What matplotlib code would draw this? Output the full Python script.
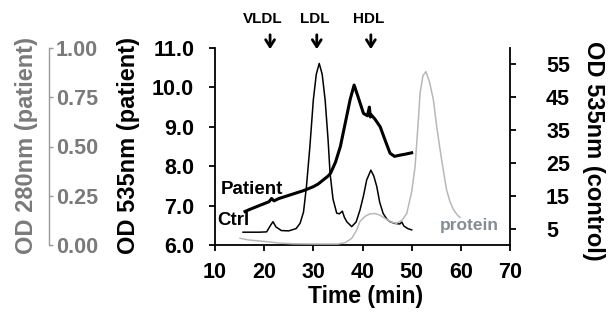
import matplotlib
matplotlib.use("Agg")
import matplotlib.pyplot as plt

plt.rcParams['font.family'] = ['Liberation Sans', 'DejaVu Sans']
plt.rcParams['font.weight'] = 'bold'

# ---- data ----
patient_t = [16.1, 17.0, 18.0, 19.0, 20.0, 21.0, 21.5, 22.0, 23.0, 24.0, 26.0, 28.0, 30.0, 31.0,
             32.0, 33.0, 33.5, 34.5, 35.5, 36.5, 37.5, 38.3, 39.1, 40.2, 41.0, 41.4, 41.6,
             41.8, 42.5, 43.6, 44.6, 45.6, 46.5, 47.6, 48.5, 50.0]
patient_v = [6.85, 6.9, 6.95, 7.0, 7.05, 7.1, 7.18, 7.12, 7.18, 7.22, 7.3, 7.38, 7.48, 7.55,
             7.65, 7.75, 7.82, 8.1, 8.5, 9.1, 9.7, 10.06, 9.76, 9.34, 9.28, 9.5, 9.25,
             9.3, 9.2, 9.0, 8.66, 8.33, 8.25, 8.28, 8.3, 8.34]

ctrl_t = [15.7, 17.0, 19.0, 20.5, 21.3, 21.8, 22.4, 23.5, 25.0, 26.5, 27.3, 28.0, 28.6, 29.3,
          30.0, 30.6, 31.2, 31.8, 32.4, 33.0, 33.4, 34.0, 34.75, 35.3, 35.9, 36.3, 36.8,
          37.8, 38.7, 39.5, 40.2, 40.85, 41.7, 42.3, 42.9, 43.5, 44.2, 45.0, 45.6, 46.5,
          47.6, 48.0, 48.4, 49.2, 50.0]
ctrl_v = [3.9, 3.9, 3.9, 4.0, 6.0, 7.1, 5.5, 4.4, 4.3, 5.0, 6.6, 10.0, 17.8, 30.0,
          44.2, 52.0, 55.3, 52.0, 44.2, 32.0, 21.9, 14.0, 9.7, 9.5, 10.3, 8.5, 7.1,
          5.6, 7.0, 10.7, 15.0, 19.8, 22.8, 21.0, 17.8, 13.0, 9.6, 7.8, 7.1, 6.6,
          6.4, 7.0, 5.8, 5.0, 4.6]

protein_t = [15.1, 17.0, 20.5, 23.0, 26.0, 30.0, 35.0, 36.5, 37.8, 38.7, 39.5, 40.5, 41.5,
             42.5, 43.5, 44.9, 46.0, 46.9, 48.0, 49.0, 50.0, 50.7, 51.4, 51.7, 52.3, 52.9,
             53.6, 54.4, 55.1, 55.8, 56.5, 57.1, 57.8, 58.5, 59.2, 59.8]
protein_v = [0.034, 0.025, 0.017, 0.01, 0.006, 0.005, 0.005, 0.012, 0.034, 0.07, 0.12, 0.145,
             0.158, 0.16, 0.152, 0.13, 0.115, 0.11, 0.125, 0.16, 0.27, 0.40, 0.65, 0.77, 0.86,
             0.88, 0.83, 0.74, 0.60, 0.48, 0.37, 0.28, 0.22, 0.18, 0.155, 0.14]

x_ticks = [10, 20, 30, 40, 50, 60, 70]
patient_ticks = [6.0, 7.0, 8.0, 9.0, 10.0, 11.0]
ctrl_ticks = [5, 15, 25, 35, 45, 55]
od280_ticks = [0.0, 0.25, 0.5, 0.75, 1.0]

marker_names = ['VLDL', 'LDL', 'HDL']
marker_text_t = [19.8, 30.3, 41.3]
marker_arrow_t = [21.2, 30.7, 41.7]

# ---- figure ----
W, H = 613, 318
fig = plt.figure(figsize=(W / 100, H / 100), dpi=100)
L, R, B, T = 215, 510, 245, 48
ax = fig.add_axes([L / W, 1 - B / H, (R - L) / W, (B - T) / H])

GRAY_TXT = '#7a7a7a'
GRAY_LINE = '#b8b8b8'
FS = 15.5
lw_sp = 1.3

# patient axis (left)
ax.plot(patient_t, patient_v, color='black', lw=2.2, zorder=3)
ax.set_xlim(10, 70)
ax.set_ylim(6, 11)
ax.set_xticks(x_ticks)
ax.set_yticks(patient_ticks)
ax.set_yticklabels([f'{v:.1f}' for v in patient_ticks])
for s in ['top', 'right']:
    ax.spines[s].set_visible(False)
for s in ['left', 'bottom']:
    ax.spines[s].set_linewidth(lw_sp)
ax.tick_params(axis='y', direction='out', length=4, width=lw_sp, labelsize=FS, pad=11)
ax.tick_params(axis='x', direction='out', length=4, width=lw_sp, labelsize=FS, pad=8)
for lab in ax.get_xticklabels() + ax.get_yticklabels():
    lab.set_fontweight('bold')

# control axis (right)
axc = ax.twinx()
axc.plot(ctrl_t, ctrl_v, color='black', lw=1.1, zorder=2)
axc.set_ylim(0, 60)
axc.set_yticks(ctrl_ticks)
for s in ['top', 'left', 'bottom']:
    axc.spines[s].set_visible(False)
axc.spines['right'].set_linewidth(lw_sp)
axc.tick_params(axis='y', direction='out', length=4, width=lw_sp, labelsize=FS, pad=22)
for lab in axc.get_yticklabels():
    lab.set_fontweight('bold')

# OD280 protein axis (far left, gray)
axp = ax.twinx()
axp.plot(protein_t, protein_v, color=GRAY_LINE, lw=1.1, zorder=1)
axp.set_ylim(0, 1.0)
axp.set_yticks(od280_ticks)
axp.set_yticklabels([f'{v:.2f}' for v in od280_ticks])
axp.spines['right'].set_position(('axes', (49 - L) / (R - L)))
axp.spines['right'].set_color('#999999')
axp.spines['right'].set_linewidth(1.0)
for s in ['top', 'left', 'bottom']:
    axp.spines[s].set_visible(False)
axp.tick_params(axis='y', direction='out', length=3, width=1.0, colors='#999999',
                labelcolor=GRAY_TXT, labelsize=FS, pad=2)
for lab in axp.get_yticklabels():
    lab.set_fontweight('bold')

# axis labels
fig.text(366 / W, 1 - 297 / H, 'Time (min)', ha='center', va='center', fontsize=16.5, fontweight='bold')
fig.text(128 / W, 1 - 146 / H, 'OD 535nm (patient)', ha='center', va='center', rotation=90,
         fontsize=17, fontweight='bold')
fig.text(26 / W, 1 - 146 / H, 'OD 280nm (patient)', ha='center', va='center', rotation=90,
         fontsize=17, fontweight='bold', color=GRAY_TXT)
fig.text(593 / W, 1 - 151 / H, 'OD 535nm (control)', ha='center', va='center', rotation=270,
         fontsize=17, fontweight='bold')

# in-plot labels
ax.text(11.2, 7.4, 'Patient', ha='left', va='center', fontsize=13.5, fontweight='bold')
ax.text(10.4, 6.63, 'Ctrl', ha='left', va='center', fontsize=13.5, fontweight='bold')
ax.text(55.8, 6.5, 'protein', ha='left', va='center', fontsize=12.5, fontweight='bold', color='#858c94')

# fraction markers
for name, tt, ta in zip(marker_names, marker_text_t, marker_arrow_t):
    ax.annotate(name, xy=(tt, 1 - 19 / H), xycoords=('data', 'figure fraction'),
                ha='center', va='center', fontsize=11, fontweight='bold', annotation_clip=False)
    ax.annotate('', xy=(ta, 1 - 52 / H), xytext=(ta, 1 - 32 / H),
                xycoords=('data', 'figure fraction'), textcoords=('data', 'figure fraction'),
                arrowprops=dict(arrowstyle='->,head_length=0.5,head_width=0.32', lw=2.0, color='black'),
                annotation_clip=False)

fig.savefig('out.png', dpi=100)
